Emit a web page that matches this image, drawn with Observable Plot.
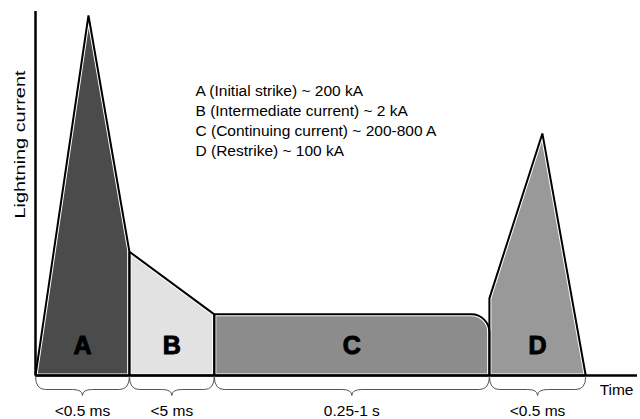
<!DOCTYPE html>
<html>
<head>
<meta charset="utf-8">
<script src="https://cdn.jsdelivr.net/npm/d3@7"></script>
<script src="https://cdn.jsdelivr.net/npm/@observablehq/plot@0.6"></script>
<style>
  html, body { margin: 0; padding: 0; background: #fff; }
  #chart { width: 640px; height: 419px; overflow: hidden; }
</style>
</head>
<body>
<div id="chart"></div>
<script>
// ---- data (time and current in arbitrary units) ----
const phases = ["A", "B", "C", "D"];
const durations = ["<0.5 ms", "<5 ms", "0.25-1 s", "<0.5 ms"];
const phaseStart = [0, 15.6, 29.7, 75.4];
const phaseEnd = [15.6, 29.7, 75.4, 91.4];
const phaseColors = ["#4b4b4b", "#e2e2e2", "#8c8c8c", "#999999"];
const legendLines = [
  "A (Initial strike) ~ 200 kA",
  "B (Intermediate current) ~ 2 kA",
  "C (Continuing current) ~ 200-800 A",
  "D (Restrike) ~ 100 kA"
];
const yLabel = "Lightning current";
const xLabel = "Time";
const aTime = [0, 8.8, 15.6, 15.6, 0];
const aCurrent = [0, 98.9, 34, 0, 0];
const bTime = [15.6, 15.6, 29.7, 29.7, 15.6];
const bCurrent = [0, 34, 16.8, 0, 0];
const cTime = [29.7, 29.7, 75.4, 75.4, 29.7];
const cCurrent = [0, 16.8, 16.8, 0, 0];
const dTime = [75.4, 75.4, 84.2, 91.4, 75.4];
const dCurrent = [0, 21.2, 66.5, 0, 0];

// ---- helpers ----
const pts = (t, c) => t.map((x, i) => ({time: x, current: c[i]}));
const shapes = [pts(aTime, aCurrent), pts(bTime, bCurrent), pts(cTime, cCurrent), pts(dTime, dCurrent)];
const segs = phases.map((p, i) => ({phase: p, duration: durations[i], start: phaseStart[i], end: phaseEnd[i], mid: (phaseStart[i] + phaseEnd[i]) / 2}));
const bracePts = segs.flatMap(s => [{id: s.phase, time: s.start, current: 0}, {id: s.phase, time: s.end, current: 0}]);

// curve that rounds only vertex k with radius r
function cornerCurve(k, r) {
  return (context) => {
    let p;
    return {
      areaStart() {}, areaEnd() {},
      lineStart() { p = []; },
      point(x, y) { p.push([+x, +y]); },
      lineEnd() {
        p.forEach(([x, y], i) => {
          if (i === 0) context.moveTo(x, y);
          else if (i === k && i < p.length - 1) context.arcTo(x, y, p[i + 1][0], p[i + 1][1], r);
          else context.lineTo(x, y);
        });
      }
    };
  };
}
// curve drawing a curly brace between the first and last point
function braceCurve(context) {
  let p;
  return {
    areaStart() {}, areaEnd() {},
    lineStart() { p = []; },
    point(x, y) { p.push([+x, +y]); },
    lineEnd() {
      const [x1, y] = p[0];
      const [x2] = p[p.length - 1];
      const m = (x1 + x2) / 2, s = 13, t = 19, c = Math.min(10, (x2 - x1) / 6);
      context.moveTo(x1, y);
      context.quadraticCurveTo(x1, y + s, x1 + c, y + s);
      context.lineTo(m - c, y + s);
      context.quadraticCurveTo(m, y + s, m, y + t);
      context.quadraticCurveTo(m, y + s, m + c, y + s);
      context.lineTo(x2 - c, y + s);
      context.quadraticCurveTo(x2, y + s, x2, y);
    }
  };
}

const curves = [cornerCurve(-1, 0), cornerCurve(-1, 0), cornerCurve(2, 18), cornerCurve(-1, 0)];

const fills = shapes.map((d, i) => Plot.line(d, {
  x: "time", y: "current", fill: phaseColors[i], stroke: "#fff", strokeWidth: 4,
  curve: curves[i], strokeLinejoin: "round"
}));
const outlines = shapes.map((d, i) => Plot.line(d, {
  x: "time", y: "current", fill: "none", stroke: "#000", strokeWidth: 2,
  curve: curves[i], strokeLinejoin: "miter"
}));

const FS = 15.5;
const chart = Plot.plot({
  width: 640,
  height: 419,
  marginLeft: 35,
  marginRight: 3,
  marginTop: 11,
  marginBottom: 44,
  x: {domain: [0, 100], axis: null},
  y: {domain: [0, 100], axis: null},
  style: {fontFamily: "'Liberation Sans', Arial, sans-serif", background: "#fff"},
  marks: [
    ...fills,
    ...outlines,
    Plot.ruleX([0], {stroke: "#000", strokeWidth: 2.5}),
    Plot.ruleY([0], {stroke: "#000", strokeWidth: 2.5}),
    Plot.line(bracePts, {x: "time", y: "current", z: "id", curve: braceCurve, stroke: "#555", strokeWidth: 1, dy: 1}),
    Plot.text(segs, {x: "mid", y: () => 8, text: "phase", fontSize: 25, fontWeight: 900, fill: "#000", stroke: "#000", strokeWidth: 1}),
    Plot.text(segs, {x: "mid", y: () => 0, text: "duration", fontSize: FS, dy: 36, fill: "#000"}),
    Plot.text([legendLines.join("\n")], {frameAnchor: "top-left", dx: 160, dy: 70, textAnchor: "start", lineAnchor: "top", lineHeight: 20 / FS, fontSize: FS, fill: "#000"}),
    Plot.text([yLabel], {frameAnchor: "top-left", textAnchor: "middle", lineAnchor: "middle", dx: -15, dy: 133, rotate: -90, fontSize: FS, fill: "#000", className: "ylab"}),
    Plot.text([xLabel], {frameAnchor: "bottom-right", textAnchor: "end", lineAnchor: "middle", dx: -4, dy: 15, fontSize: FS, fill: "#000"})
  ]
});
// stretch the y label to the reference's length
d3.select(chart).selectAll(".ylab text").attr("textLength", 148).attr("lengthAdjust", "spacingAndGlyphs");
document.getElementById("chart").appendChild(chart);
</script>
</body>
</html>
